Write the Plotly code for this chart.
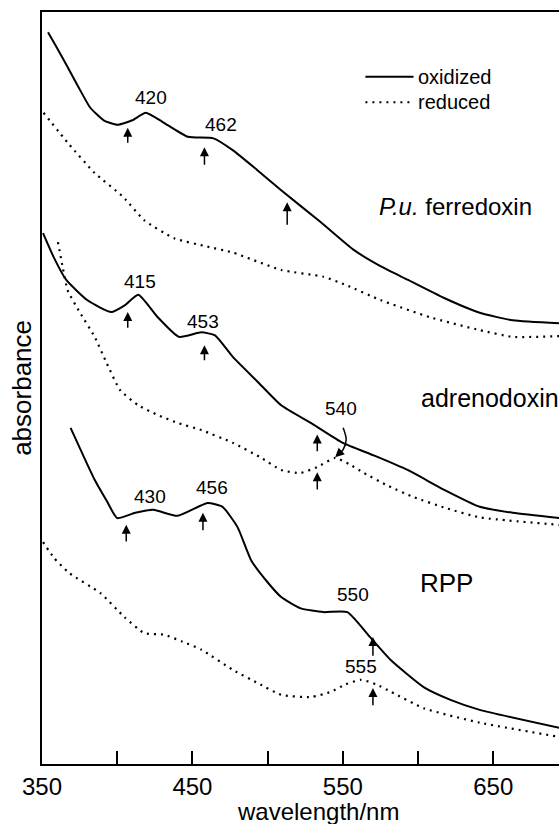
import plotly.graph_objects as go

# ---- data (wavelength in nm, absorbance in arbitrary offset units) ----
pu_ox_wl = [354, 360, 367, 374, 382, 391, 400, 410, 419, 430, 447, 464, 477, 493, 509, 535, 557, 575, 593, 617, 641, 663, 694]
pu_ox_a  = [97.3, 95.2, 92.7, 90.1, 87.3, 85.6, 85.0, 85.6, 86.6, 85.4, 83.4, 83.2, 81.6, 79.0, 76.3, 72.1, 68.4, 66.2, 64.4, 62.0, 60.0, 59.0, 58.6]

pu_red_wl = [351, 368, 385, 404, 418, 438, 460, 477, 509, 537, 552, 575, 608, 641, 663, 694]
pu_red_a  = [86.6, 82.4, 78.6, 75.4, 72.3, 69.9, 68.8, 68.0, 65.7, 64.8, 63.7, 61.7, 59.4, 57.7, 56.8, 56.9]

ad_ox_wl = [350.7, 358, 366, 380, 396, 405, 414, 427, 441, 456, 465, 477, 493, 509, 530, 550, 571, 593, 617, 641, 663, 694]
ad_ox_a  = [70.6, 67.3, 64.4, 61.7, 60.1, 61.0, 62.4, 59.4, 56.8, 57.4, 57.0, 54.1, 50.9, 47.7, 45.2, 42.7, 41.0, 39.1, 36.5, 34.2, 33.4, 32.7]

ad_red_wl = [360.6, 364, 367, 375, 385, 393, 402, 414, 427, 441, 456, 477, 495, 509, 522, 533, 545, 554, 564, 580, 597, 619, 641, 694]
ad_red_a  = [69.4, 65.8, 63.0, 60.1, 56.8, 53.3, 49.7, 47.7, 46.4, 45.3, 44.4, 42.7, 40.8, 39.1, 38.7, 39.5, 40.7, 39.9, 38.7, 37.0, 35.5, 34.0, 32.8, 31.8]

rpp_ox_wl = [369, 377, 385, 393, 400, 412, 424, 440, 460, 470, 480, 489, 499, 509, 522, 537, 553, 568, 582, 604, 622, 641, 694]
rpp_ox_a  = [44.7, 41.2, 37.8, 35.0, 32.7, 33.4, 33.8, 33.0, 34.7, 34.2, 31.5, 27.1, 24.4, 22.2, 20.7, 20.2, 20.2, 16.9, 13.8, 10.2, 8.5, 7.2, 4.8]

rpp_red_wl = [350.7, 358, 368, 389, 405, 418, 431, 443, 456, 477, 494, 509, 529, 542, 552, 562, 572, 582, 604, 641, 694]
rpp_red_a  = [29.5, 27.4, 25.4, 22.7, 19.5, 17.4, 17.2, 16.3, 15.2, 12.5, 10.7, 9.2, 8.9, 9.6, 10.6, 11.2, 10.6, 9.6, 7.4, 5.5, 3.6]

# arrows: (wavelength, tip absorbance, tail absorbance)
arrow_wl   = [407, 458, 513, 407, 458, 533, 533, 406, 457, 570, 570]
arrow_tip  = [84.6, 82.0, 74.7, 60.1, 55.7, 43.8, 38.8, 31.8, 33.4, 16.9, 10.1]
arrow_tail = [82.4, 79.5, 71.5, 57.8, 53.5, 41.4, 36.3, 29.4, 30.9, 14.2, 7.6]

# peak labels
peak_text = ["420", "462", "415", "453", "540", "430", "456", "550", "555"]
peak_wl   = [422.4, 469, 415, 457, 548.6, 422, 463, 556.5, 562]
peak_a    = [88.6, 85.0, 64.2, 58.8, 47.3, 35.6, 36.8, 22.5, 12.9]

# curved pointer from "540" label to reduced adrenodoxin peak
curve_wl = [550.2, 552.2, 550.2, 546.5]
curve_a  = [44.7, 43.1, 41.8, 41.0]

x_ticks = [350, 400, 450, 500, 550, 600, 650]
x_ticktext = ["350", "", "450", "", "550", "", "650"]

FONT = "Liberation Sans"
solid = dict(color="black", width=2)
dotted = dict(color="black", width=2.2, dash="2px,5px")

fig = go.Figure()
for wl, a, ln in [
    (pu_ox_wl, pu_ox_a, solid), (pu_red_wl, pu_red_a, dotted),
    (ad_ox_wl, ad_ox_a, solid), (ad_red_wl, ad_red_a, dotted),
    (rpp_ox_wl, rpp_ox_a, solid), (rpp_red_wl, rpp_red_a, dotted),
]:
    fig.add_trace(go.Scatter(x=wl, y=a, mode="lines", line=dict(shape="spline", smoothing=0.5, **ln),
                             showlegend=False, hoverinfo="skip"))

fig.add_trace(go.Scatter(x=curve_wl, y=curve_a, mode="lines",
                         line=dict(color="black", width=1.5, shape="spline"),
                         showlegend=False, hoverinfo="skip"))

ann = []
for w, tip, tail in zip(arrow_wl, arrow_tip, arrow_tail):
    ann.append(dict(x=w, y=tip, ax=w, ay=tail, xref="x", yref="y", axref="x", ayref="y",
                    showarrow=True, arrowhead=2, arrowsize=1.2, arrowwidth=1.5, arrowcolor="black", text=""))
# arrowhead of the curved pointer
ann.append(dict(x=544.9, y=40.8, ax=curve_wl[-2], ay=curve_a[-2], xref="x", yref="y", axref="x", ayref="y",
                showarrow=True, arrowhead=2, arrowsize=1.2, arrowwidth=1.5, arrowcolor="black", text=""))

for t, w, a in zip(peak_text, peak_wl, peak_a):
    ann.append(dict(x=w, y=a, text=t, showarrow=False, xanchor="center", yanchor="middle",
                    font=dict(family=FONT, size=19, color="black")))

ann.append(dict(x=573, y=74.1, xanchor="left", yanchor="middle", text="<i>P.u.</i> ferredoxin", showarrow=False,
                font=dict(family=FONT, size=24, color="black")))
ann.append(dict(x=600.5, y=48.7, xanchor="left", yanchor="middle", text="adrenodoxin", showarrow=False,
                font=dict(family=FONT, size=25, color="black")))
ann.append(dict(x=600, y=24.1, xanchor="left", yanchor="middle", text="RPP", showarrow=False,
                font=dict(family=FONT, size=26, color="black")))

# legend text
ann.append(dict(x=598.5, y=91.4, xanchor="left", yanchor="middle", text="oxidized", showarrow=False,
                font=dict(family=FONT, size=20, color="black")))
ann.append(dict(x=598.5, y=88.0, xanchor="left", yanchor="middle", text="reduced", showarrow=False,
                font=dict(family=FONT, size=20, color="black")))

# axis titles
ann.append(dict(xref="paper", yref="paper", x=-0.039, y=0.5, xanchor="center", yanchor="middle",
                text="absorbance", textangle=-90,
                showarrow=False, font=dict(family=FONT, size=26, color="black")))
ann.append(dict(xref="paper", yref="paper", x=0.534, y=-0.0625, xanchor="center", yanchor="middle",
                text="wavelength/nm",
                showarrow=False, font=dict(family=FONT, size=24, color="black")))

shapes = [
    dict(type="line", xref="x", yref="y", x0=565, x1=597, y0=91.4, y1=91.4, line=dict(color="black", width=2)),
    dict(type="line", xref="x", yref="y", x0=565, x1=597, y0=88.0, y1=88.0,
         line=dict(color="black", width=2, dash="2px,5px")),
]

fig.update_layout(
    width=559, height=824,
    margin=dict(l=42, r=0, t=12, b=60),
    paper_bgcolor="white", plot_bgcolor="white",
    annotations=ann, shapes=shapes,
    font=dict(family=FONT, color="black"),
    xaxis=dict(range=[350, 693.7], tickvals=x_ticks, ticktext=x_ticktext, ticks="inside", ticklen=13,
               tickwidth=2, tickcolor="black", showline=True, linewidth=2, linecolor="black", mirror=True,
               showgrid=False, zeroline=False, tickfont=dict(family=FONT, size=24, color="black")),
    yaxis=dict(range=[0, 100], showticklabels=False, ticks="", showline=True, linewidth=2,
               linecolor="black", showgrid=False, zeroline=False),
)

fig.write_html("out.html")
